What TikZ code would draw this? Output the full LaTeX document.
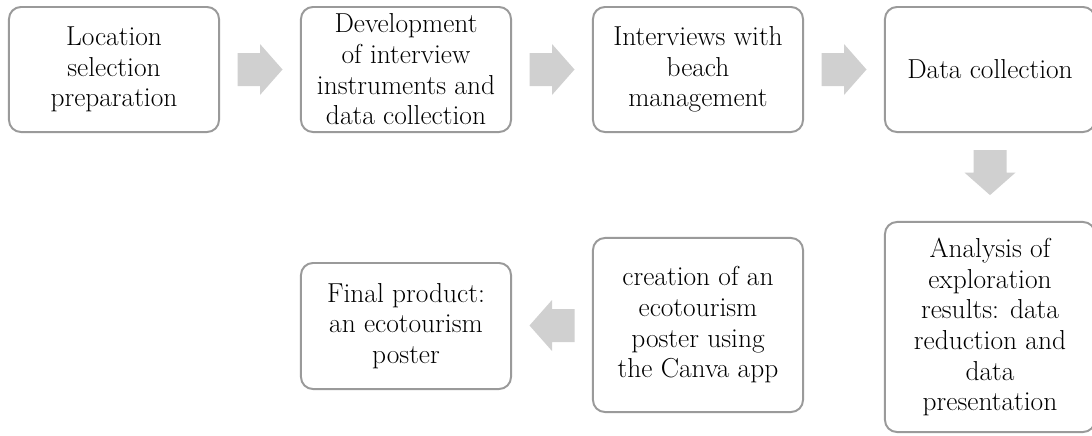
\documentclass[tikz,border=0pt]{standalone}
\usetikzlibrary{calc}
\definecolor{boxline}{HTML}{9A9A9A}
\definecolor{arrowgray}{HTML}{D0D0D0}
\begin{document}
\begin{tikzpicture}[x=0.025cm,y=-0.025cm,
    stepbox/.style={draw=boxline, line width=1.4pt, fill=white, rounded corners=0.3cm,
        minimum width=5.25cm, align=center, inner sep=0pt,
        font=\fontsize{19.5}{21.8}\selectfont},
    stepArrow/.pic={\fill[arrowgray] (-22.5,-16.5)--(0,-16.5)--(0,-25.5)--(22.5,0)--(0,25.5)--(0,16.5)--(-22.5,16.5)--cycle;}]
    \useasboundingbox (0,0) rectangle (1092,435);
    % top row
    \node[stepbox, minimum height=3.125cm] (loc) at (114,69.5) {Location\\selection\\preparation};
    \node[stepbox, minimum height=3.125cm] (dev) at (406,69.5) {Development\\of interview\\instruments and\\data collection};
    \node[stepbox, minimum height=3.125cm] (intv) at (698,69.5) {Interviews with\\beach\\management};
    \node[stepbox, minimum height=3.125cm] (coll) at (990,69.5) {Data collection};
    % bottom row
    \node[stepbox, minimum height=5.25cm] (anal) at (990,327) {Analysis of\\exploration\\results: data\\reduction and\\data\\presentation};
    \node[stepbox, minimum height=4.35cm] (canva) at (698,325) {creation of an\\ecotourism\\poster using\\the Canva app};
    \node[stepbox, minimum height=3.15cm] (final) at (406,326) {Final product:\\an ecotourism\\poster};
    % block arrows
    \pic at ($(loc.east)!0.5!(dev.west)$) {stepArrow};
    \pic at ($(dev.east)!0.5!(intv.west)$) {stepArrow};
    \pic at ($(intv.east)!0.5!(coll.west)$) {stepArrow};
    \pic[rotate=-90] at ($(coll.south)!0.45!(anal.north)$) {stepArrow};
    \pic[rotate=180] at ($(canva.west)!0.5!(final.east)$) {stepArrow};
\end{tikzpicture}
\end{document}
